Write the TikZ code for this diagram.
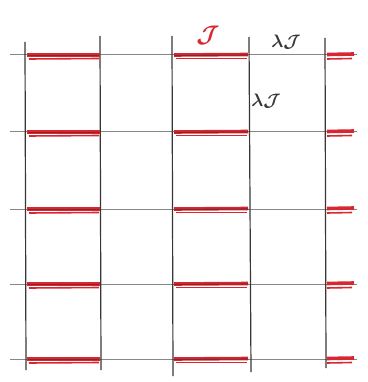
\documentclass[tikz,border=0pt]{standalone}
\usepackage{amsmath,bm}
\definecolor{pencil}{RGB}{55,55,55}
\definecolor{hline}{RGB}{135,135,135}
\definecolor{redpen}{RGB}{215,40,50}
\definecolor{darkred}{RGB}{140,35,40}
\tikzset{
  vline/.style={draw=pencil, line width=1.2pt},
  hgrid/.style={draw=hline, line width=1pt},
  redbar/.style={draw=redpen, line width=3.6pt},
  redbartwo/.style={draw=redpen, line width=1.6pt},
  redcore/.style={draw=darkred, line width=1.1pt},
  lab/.style={inner sep=0pt}
}
\begin{document}
\begin{tikzpicture}[x=1pt,y=-1pt]
\useasboundingbox (0,0) rectangle (367,382);
% horizontal grid lines
\foreach \y in {55,132,209,284,359} {
  \draw[hgrid] (10,\y) -- (357,\y);
}
% vertical lines
\draw[vline] (25,42) -- (26,370);
\draw[vline] (100,36) -- (101,370);
\draw[vline] (172,36) -- (173,376);
\draw[vline] (249,37) -- (251,372);
\draw[vline] (325,38) -- (326,368);
% red bars
\foreach \y in {55,132,209,284,359} {
  \draw[redbar] (27,\y) -- (100,\y);
  \draw[redbartwo] (29,\y+4) -- (99,\y+3.5);
  \draw[redcore] (28,\y+0.5) -- (99,\y+0.5);
  \draw[redbar] (174,\y) -- (248,\y-0.5);
  \draw[redbartwo] (176,\y+3.5) -- (247,\y+3.5);
  \draw[redcore] (174,\y+0.5) -- (248,\y);
  \draw[redbar] (327,\y-0.5) -- (354,\y-1);
  \draw[redbartwo] (327,\y+4) -- (352,\y+3.5);
}
% labels
\node[lab, text=redpen, scale=2.4] (J) at (208,35) {$\bm{\mathcal{J}}$};
\node[lab, text=pencil, scale=1.8] (lj1) at (286,42) {$\bm{\lambda\mathcal{J}}$};
\node[lab, text=pencil, scale=1.8] (lj2) at (266,101) {$\bm{\lambda\mathcal{J}}$};
\end{tikzpicture}
\end{document}
